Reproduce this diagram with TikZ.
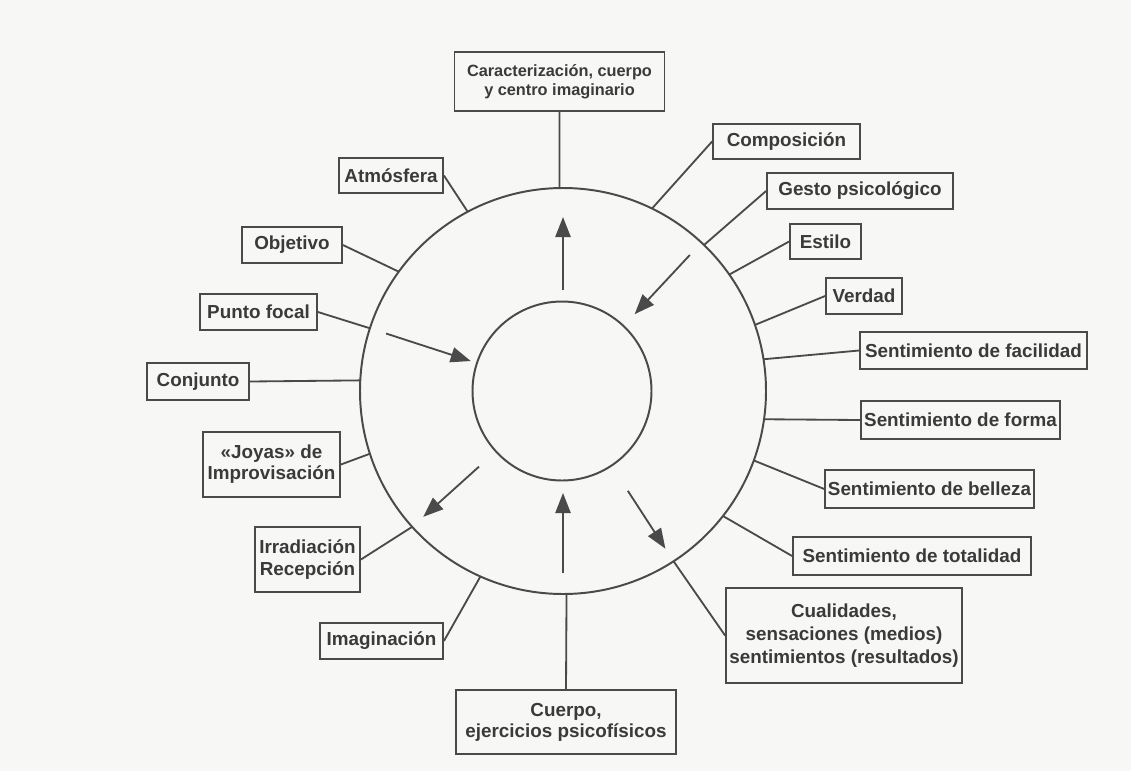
\documentclass[tikz,border=0pt]{standalone}
\usepackage{fontspec}
\setmainfont{Liberation Sans}
\usetikzlibrary{positioning,calc,arrows.meta}

\definecolor{trazo}{HTML}{4A4A4A}
\definecolor{texto}{HTML}{3A3A3A}
\definecolor{papel}{HTML}{F7F7F5}

\begin{document}
\begin{tikzpicture}[x=0.025cm, y=0.025cm,
    caja/.style 2 args={draw=trazo, line width=1.3pt, text=texto,
        font=\bfseries\fontsize{13.4}{15}\selectfont, align=center,
        inner xsep=2pt, inner ysep=1pt,
        minimum width=#1*0.025cm, minimum height=#2*0.025cm},
    linea/.style={draw=trazo, line width=1.3pt},
    flecha/.style={linea, -{Triangle[length=0.5cm, width=0.38cm]}},
    anillo/.style={circle, draw=trazo, line width=1.4pt, inner sep=0pt, outer sep=0pt}]

    \fill[papel] (0,0) rectangle (1131,-771);
    \useasboundingbox (0,0) rectangle (1131,-771);

    % circles
    \node[anillo, minimum size=406*0.025cm] (exterior) at (563,-391) {};
    \node[anillo, minimum size=179*0.025cm] (interior) at (562,-391) {};
    \coordinate (centro) at (563,-391);

    % boxes, clockwise from the top
    \node[caja={210}{59}, font=\bfseries\fontsize{11.6}{13.5}\selectfont] (carac) at (559.5,-81.5) {Caracterización, cuerpo\\y centro imaginario};
    \node[caja={147}{35}] (comp) at (786.5,-141.5) {Composición};
    \node[caja={186}{36}] (gesto) at (860,-191) {Gesto psicológico};
    \node[caja={71}{35}] (estilo) at (825.5,-241.5) {Estilo};
    \node[caja={76}{36}] (verdad) at (864,-296) {Verdad};
    \node[caja={227}{37}] (facil) at (973.5,-350.5) {Sentimiento de facilidad};
    \node[caja={195}{38}] (forma) at (960.5,-420) {Sentimiento de forma};
    \node[caja={205}{38}] (belleza) at (929.5,-489) {Sentimiento de belleza};
    \node[caja={238}{38}] (total) at (912,-556) {Sentimiento de totalidad};
    \node[caja={236}{95}, font=\bfseries\fontsize{13.4}{16.5}\selectfont] (cual) at (844,-635.5) {Cualidades,\\sensaciones (medios)\\sentimientos (resultados)};
    \node[caja={220}{64}] (cuerpo) at (566,-722) {Cuerpo,\\ejercicios psicofísicos};
    \node[caja={123}{36}] (imag) at (381.5,-641) {Imaginación};
    \node[caja={105}{65}] (irrad) at (307.5,-559.5) {Irradiación\\Recepción};
    \node[caja={137}{65}] (joyas) at (271.5,-464.5) {«Joyas» de\\Improvisación};
    \node[caja={102}{37}] (conj) at (198,-381.5) {Conjunto};
    \node[caja={117}{36}] (punto) at (258.5,-312) {Punto focal};
    \node[caja={100}{36}] (obj) at (292,-245) {Objetivo};
    \node[caja={104}{35}] (atm) at (391,-175.5) {Atmósfera};

    % spokes
    \draw[linea] (carac.south) -- (exterior.91);
    \draw[linea] (comp.west) -- (exterior.64);
    \draw[linea] (gesto.west) -- (exterior.46);
    \draw[linea] (estilo.west) -- (exterior.35);
    \draw[linea] (verdad.west) -- (exterior.19);
    \draw[linea] (facil.west) -- (exterior.9);
    \draw[linea] (forma.west) -- (exterior.-8);
    \draw[linea] (belleza.west) -- (exterior.-20);
    \draw[linea] (total.west) -- (exterior.-38);
    \draw[linea] (cual.west) -- (exterior.-57);
    \draw[linea] (cuerpo.north) -- (exterior.-89);
    \draw[linea] (imag.east) -- (exterior.-114);
    \draw[linea] (irrad.east) -- (exterior.-138);
    \draw[linea] (joyas.east) -- (exterior.198);
    \draw[linea] (conj.east) -- (exterior.177);
    \draw[linea] (punto.east) -- (exterior.162);
    \draw[linea] (obj.east) -- (exterior.144);
    \draw[linea] (atm.east) -- (exterior.118);

    % arrows in the ring
    \foreach \ang/\desde/\hasta [count=\i] in {90/101/174, 47/186/105, 162/186/97,
                                              222/113/188, -90/182/102, -57/119/188} {
        \coordinate (f\i a) at ($(centro)+(\ang:\desde)$);
        \coordinate (f\i b) at ($(centro)+(\ang:\hasta)$);
        \draw[flecha] (f\i a) -- (f\i b);
    }
\end{tikzpicture}
\end{document}
